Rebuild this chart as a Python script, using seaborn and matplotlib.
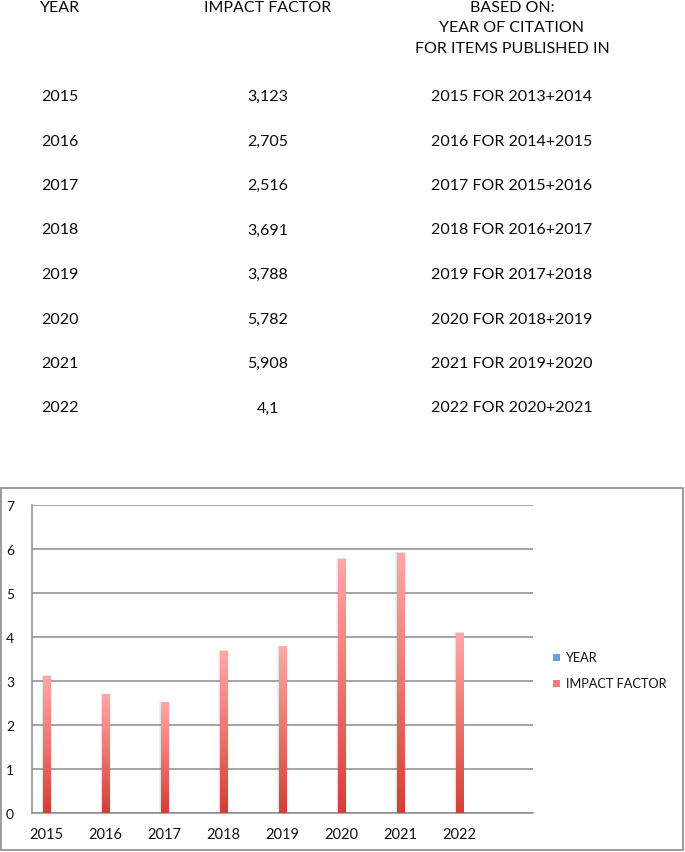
import numpy as np
import pandas as pd
import matplotlib
matplotlib.use("Agg")
import matplotlib.pyplot as plt
from matplotlib.patches import Rectangle
from matplotlib.colors import LinearSegmentedColormap
import seaborn as sns

years = [2015, 2016, 2017, 2018, 2019, 2020, 2021, 2022]
impact_labels = ["3,123", "2,705", "2,516", "3,691", "3,788", "5,782", "5,908", "4,1"]
impact = [3.123, 2.705, 2.516, 3.691, 3.788, 5.782, 5.908, 4.1]
based_on = ["2015 FOR 2013+2014", "2016 FOR 2014+2015", "2017 FOR 2015+2016",
            "2018 FOR 2016+2017", "2019 FOR 2017+2018", "2020 FOR 2018+2019",
            "2021 FOR 2019+2020", "2022 FOR 2020+2021"]
headers = ["YEAR", "IMPACT FACTOR", "BASED ON:\nYEAR OF CITATION\nFOR ITEMS PUBLISHED IN"]
legend_labels = ["YEAR", "IMPACT FACTOR"]
y_ticks = [0, 1, 2, 3, 4, 5, 6, 7]

sns.set_theme(style="white")
FONT = ["Lato", "DejaVu Sans"]
plt.rcParams["font.family"] = FONT

W, H = 685, 853
fig = plt.figure(figsize=(W / 100, H / 100), dpi=100)

def fx(px):
    return px / W

def fy(py):
    return 1 - py / H

# ---- table at top ----
col_x = [60, 268, 512]
tsize = 11.5
tcol = "#0a0a0a"
fig.text(fx(col_x[0]), fy(0.5), headers[0], ha="center", va="top", fontsize=tsize, color=tcol)
fig.text(fx(col_x[1]), fy(0.5), headers[1], ha="center", va="top", fontsize=tsize, color=tcol)
fig.text(fx(col_x[2]), fy(0.5), headers[2], ha="center", va="top", fontsize=tsize,
         color=tcol, linespacing=1.6)
row_y0, row_dy = 97, 44.5
for i in range(len(years)):
    yy = fy(row_y0 + i * row_dy)
    fig.text(fx(col_x[0]), yy, str(years[i]), ha="center", va="center", fontsize=tsize, color=tcol)
    fig.text(fx(col_x[1]), yy, impact_labels[i], ha="center", va="center", fontsize=tsize, color=tcol)
    fig.text(fx(col_x[2]), yy, based_on[i], ha="center", va="center", fontsize=tsize, color=tcol)

# ---- chart border ----
fig.patches.append(Rectangle((fx(1), fy(851)), fx(682), (851 - 489) / H,
                             transform=fig.transFigure, fill=False,
                             edgecolor="#8a8a8a", linewidth=1.2, zorder=0))

# ---- chart ----
ax_l, ax_r, ax_t, ax_b = 32, 533, 506, 814
ax = fig.add_axes([fx(ax_l), fy(ax_b), fx(ax_r - ax_l), (ax_b - ax_t) / H])

df = pd.DataFrame({"year": years, "impact": impact})
sns.barplot(data=df, x="year", y="impact", native_scale=True, width=0.12,
            color="#f08a85", saturation=1, ax=ax, errorbar=None, zorder=3)

x_lo = years[0] - 0.25
x_hi = years[0] + 16.5 / 2
ax.set_xlim(x_lo, x_hi)
ax.set_ylim(y_ticks[0], y_ticks[-1])

# gradient fill
cmap = LinearSegmentedColormap.from_list("g", ["#d43e35", "#ec7670", "#ffa8a8"])
grad = np.linspace(0, 1, 256).reshape(-1, 1)
for p in list(ax.patches):
    x0, y0 = p.get_x(), p.get_y()
    w, h = p.get_width(), p.get_height()
    # subtle soft shadow
    for k, a in [(0.45, 0.10), (0.25, 0.14)]:
        sh = Rectangle((x0 - w * k * 0.5, y0), w * (1 + k), h * 1.004,
                       facecolor="#888888", alpha=a, edgecolor="none", zorder=2)
        ax.add_patch(sh)
    im = ax.imshow(grad, cmap=cmap, aspect="auto", origin="lower",
                   extent=(x0, x0 + w, y0, y0 + h), zorder=4)
    im.set_clip_path(p)
    p.set_edgecolor("none")

# axes style
ax.set_yticks(y_ticks)
ax.set_yticklabels([str(v) for v in y_ticks], fontsize=10, color="#111111")
ax.yaxis.grid(True, color="#8c8c8c", linewidth=1.1, zorder=1)
ax.set_axisbelow(True)
ax.set_xticks(years)
ax.set_xticklabels([str(y) for y in years], fontsize=10.5, color="#111111")
ax.tick_params(axis="x", which="major", length=0, pad=10)
bounds = [x_lo + 0.5 * k for k in range(18)]
ax.set_xticks(bounds, minor=True)
ax.tick_params(axis="x", which="minor", length=5, width=1, color="#8c8c8c", direction="out")
ax.tick_params(axis="y", which="major", length=5, width=1, color="#8c8c8c", direction="out", pad=8)
ax.set_xlabel("")
ax.set_ylabel("")
for s in ["top", "right"]:
    ax.spines[s].set_visible(False)
for s in ["left", "bottom"]:
    ax.spines[s].set_color("#8c8c8c")
    ax.spines[s].set_linewidth(1.1)

# legend
sq = 7
for i, (lab, col) in enumerate(zip(legend_labels, ["#6a9fe0", "#ef7d78"])):
    ly = 658 + i * 26
    fig.patches.append(Rectangle((fx(553), fy(ly + sq / 2)), fx(sq), sq / H,
                                 transform=fig.transFigure, facecolor=col,
                                 edgecolor="none"))
    fig.text(fx(566), fy(ly), lab, ha="left", va="center", fontsize=9.2, color="#111111")

fig.savefig("out.png", dpi=100)
